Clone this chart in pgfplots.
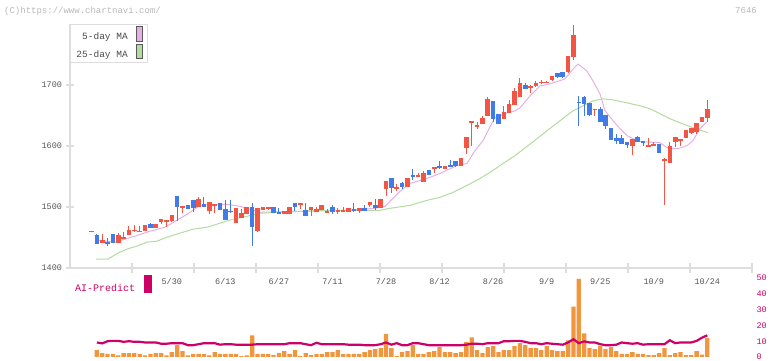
\documentclass[border=0pt]{standalone}
\usepackage{pgfplots}
\pgfplotsset{compat=1.18}
\usepackage{pgfplotstable}
\usepackage{fontspec}
\setmainfont{Liberation Mono}
\definecolor{upred}{HTML}{F25543}
\definecolor{dnblue}{HTML}{407BE8}
\definecolor{mafive}{HTML}{E6B0E6}
\definecolor{matwfive}{HTML}{B2DCA0}
\definecolor{volor}{HTML}{F0963E}
\definecolor{aicol}{HTML}{CC0066}
\definecolor{axgray}{HTML}{DDDDDD}
\definecolor{txgray}{HTML}{555555}

% rising (red) candles: index, open, high, low, close
\pgfplotstableread{
i o h l c
0 1459.5 1460.3 1459.5 1460.3
2 1440.8 1455.4 1440.8 1445.7
5 1440.8 1457.1 1440.8 1453.8
6 1447.3 1458.7 1447.3 1450.5
7 1453.8 1468.5 1453.8 1462.0
8 1461.0 1470.1 1458.7 1462.0
9 1459.5 1468.5 1458.7 1460.3
10 1460.3 1470.1 1460.3 1470.1
12 1465.2 1471.7 1465.2 1471.7
13 1475.0 1479.9 1471.7 1479.9
14 1476.6 1478.3 1466.8 1478.3
15 1476.6 1486.4 1475.0 1486.4
17 1497.8 1501.1 1489.7 1501.1
20 1499.5 1515.8 1499.5 1512.5
22 1492.9 1507.6 1488.0 1507.6
23 1503.5 1504.3 1489.7 1504.3
27 1473.4 1497.8 1473.4 1497.8
28 1481.5 1496.2 1481.5 1489.7
29 1488.0 1499.5 1488.0 1499.5
31 1460.3 1497.8 1458.7 1497.8
32 1494.6 1499.5 1494.6 1499.5
33 1498.7 1499.5 1494.6 1499.5
36 1488.0 1492.9 1488.0 1492.9
37 1488.0 1499.5 1488.0 1499.5
39 1505.2 1506.0 1496.2 1506.0
41 1494.6 1499.5 1484.8 1499.5
42 1491.3 1499.5 1491.3 1496.2
43 1494.6 1502.7 1494.6 1502.7
44 1492.1 1496.2 1491.3 1492.9
46 1491.3 1497.8 1488.0 1494.6
47 1491.3 1499.5 1491.3 1494.6
48 1491.3 1497.8 1491.3 1497.8
50 1492.9 1497.8 1489.7 1497.8
52 1502.7 1507.6 1499.5 1507.6
54 1497.8 1512.5 1497.8 1512.5
55 1528.8 1541.8 1517.4 1541.8
57 1528.8 1537.0 1525.5 1532.1
59 1532.1 1546.7 1532.1 1546.7
61 1550.0 1554.9 1548.4 1551.6
62 1540.2 1558.2 1540.2 1554.9
64 1563.0 1564.7 1554.9 1564.7
66 1563.0 1567.9 1563.0 1567.9
69 1567.9 1581.0 1567.9 1581.0
70 1597.3 1615.2 1587.5 1615.2
71 1638.0 1641.3 1600.5 1641.3
72 1631.5 1639.7 1628.3 1634.8
73 1636.4 1649.5 1636.4 1646.2
74 1649.5 1680.4 1649.5 1677.2
77 1644.6 1665.8 1644.6 1656.0
78 1654.3 1675.5 1654.3 1669.0
79 1667.4 1695.1 1667.4 1690.2
80 1680.4 1711.4 1680.4 1703.3
82 1695.1 1700.0 1686.9 1698.4
83 1698.4 1706.5 1696.7 1703.3
84 1703.3 1708.1 1701.6 1704.9
85 1704.1 1706.5 1704.1 1704.9
86 1708.1 1714.7 1706.5 1714.7
89 1721.2 1747.3 1719.6 1747.3
90 1745.6 1797.8 1740.8 1781.5
94 1660.1 1660.9 1649.5 1660.9
101 1600.5 1612.0 1585.9 1612.0
104 1598.9 1613.6 1598.9 1602.2
105 1600.5 1607.1 1600.5 1603.8
107 1576.1 1581.0 1502.7 1579.3
108 1572.8 1607.1 1572.8 1600.5
109 1607.1 1615.2 1598.9 1615.2
110 1608.7 1612.0 1600.5 1612.0
111 1613.6 1626.6 1613.6 1626.6
112 1621.7 1629.9 1620.1 1629.9
113 1623.4 1638.0 1620.1 1638.0
114 1639.7 1647.8 1639.7 1647.8
115 1646.2 1675.5 1639.7 1660.9
}\upcandles

% falling (blue) candles: index, open, high, low, close
\pgfplotstableread{
i o h l c
1 1453.8 1455.4 1439.1 1439.1
3 1442.4 1448.9 1435.9 1440.8
4 1455.4 1455.4 1440.8 1440.8
11 1471.7 1473.4 1465.2 1465.2
16 1517.4 1517.4 1476.6 1499.5
18 1502.7 1502.7 1496.2 1496.2
19 1510.9 1510.9 1491.3 1497.8
21 1504.3 1515.8 1499.5 1499.5
24 1506.0 1506.0 1494.6 1494.6
25 1496.2 1510.9 1478.3 1478.3
26 1493.5 1510.9 1489.7 1492.9
30 1499.5 1506.0 1435.9 1466.8
34 1499.5 1499.5 1489.7 1489.7
35 1491.3 1497.8 1488.0 1488.0
38 1506.0 1506.0 1492.9 1499.5
40 1494.6 1506.0 1484.8 1484.8
45 1499.5 1502.7 1488.0 1491.3
49 1496.2 1506.0 1491.3 1492.9
51 1497.8 1502.7 1492.9 1492.9
53 1502.7 1512.5 1494.6 1497.8
56 1546.7 1546.7 1522.3 1530.4
58 1538.6 1540.2 1528.8 1532.1
60 1551.6 1563.0 1543.5 1548.4
63 1559.8 1559.8 1551.6 1551.6
65 1567.9 1576.1 1563.0 1564.7
67 1569.6 1577.7 1564.7 1566.3
68 1576.1 1576.1 1566.3 1567.9
75 1673.9 1673.9 1639.7 1644.6
76 1652.7 1652.7 1636.4 1636.4
81 1700.0 1703.3 1693.5 1693.5
87 1719.6 1719.6 1711.4 1713.0
88 1721.2 1721.2 1711.4 1713.0
91 1672.3 1682.1 1633.1 1671.5
92 1680.4 1682.1 1649.5 1669.0
93 1670.6 1670.6 1649.5 1651.1
95 1660.9 1664.1 1639.7 1639.7
96 1651.1 1651.1 1628.3 1633.1
97 1629.9 1629.9 1610.3 1610.3
98 1613.6 1620.1 1603.8 1608.7
99 1613.6 1618.5 1603.8 1603.8
100 1607.1 1607.1 1597.3 1602.2
102 1615.2 1616.8 1607.1 1607.1
103 1608.7 1608.7 1600.5 1605.4
106 1603.8 1603.8 1589.1 1589.1
}\dncandles

% wick centre/half-range and body centre/half-height, from o h l c
\pgfplotstablecreatecol[create col/expr={(\thisrow{h}+\thisrow{l})/2}]{wm}\upcandles
\pgfplotstablecreatecol[create col/expr={(\thisrow{h}-\thisrow{l})/2}]{wh}\upcandles
\pgfplotstablecreatecol[create col/expr={(\thisrow{o}+\thisrow{c})/2}]{bm}\upcandles
\pgfplotstablecreatecol[create col/expr={max(abs(\thisrow{c}-\thisrow{o})/2,0.6)}]{bh}\upcandles
\pgfplotstablecreatecol[create col/expr={(\thisrow{h}+\thisrow{l})/2}]{wm}\dncandles
\pgfplotstablecreatecol[create col/expr={(\thisrow{h}-\thisrow{l})/2}]{wh}\dncandles
\pgfplotstablecreatecol[create col/expr={(\thisrow{o}+\thisrow{c})/2}]{bm}\dncandles
\pgfplotstablecreatecol[create col/expr={max(abs(\thisrow{c}-\thisrow{o})/2,0.6)}]{bh}\dncandles

\pgfplotstableread{
i v
0.97 1445.7
4.39 1442.4
8.12 1452.2
10.92 1460.3
13.73 1466.8
15.97 1478.3
17.83 1488.0
20.26 1502.7
23.06 1504.3
25.30 1504.3
27.73 1501.1
29.60 1496.2
31.46 1491.3
38.93 1492.9
48.27 1494.6
52.94 1497.8
54.81 1501.1
57.61 1525.5
59.48 1538.6
62.65 1546.7
65.08 1554.9
68.25 1567.9
70.12 1571.2
71.62 1592.4
73.11 1608.7
74.42 1631.5
75.35 1646.2
77.22 1652.8
79.09 1657.6
80.02 1662.5
81.89 1682.1
83.75 1698.4
85.62 1701.6
88.42 1709.8
89.92 1726.1
90.85 1734.2
92.53 1722.8
93.65 1706.5
94.96 1685.3
95.89 1657.6
97.39 1641.3
98.69 1628.3
100.00 1616.8
101.12 1612.0
102.43 1607.1
106.16 1605.4
107.47 1597.3
108.59 1595.6
109.52 1595.6
111.20 1600.5
112.32 1608.7
113.63 1628.3
115.12 1641.3
}\mafivetab

\pgfplotstableread{
i v
0.84 1414.7
3.08 1414.7
4.95 1424.5
6.63 1431.0
8.50 1435.9
10.36 1442.4
12.23 1444.0
14.10 1450.5
16.53 1457.1
18.95 1463.6
21.57 1466.8
23.99 1473.4
26.42 1479.9
29.04 1484.8
31.46 1489.7
35.20 1491.3
38.93 1492.9
42.67 1494.6
53.87 1494.6
55.74 1497.8
59.48 1502.7
62.65 1510.9
65.08 1515.8
67.51 1523.9
70.12 1535.3
72.55 1546.7
74.42 1556.5
76.28 1567.9
79.09 1584.2
81.89 1603.0
85.06 1625.0
87.49 1641.3
89.92 1657.6
92.53 1669.0
93.65 1673.9
95.52 1677.2
97.39 1675.5
100.00 1670.6
102.43 1665.8
104.30 1660.9
106.16 1652.7
108.03 1644.6
109.90 1638.0
112.32 1629.9
115.12 1621.7
}\matwfivetab

\pgfplotstableread{
i v a
1 4.4 9.2
2 2.5 8.6
3 1.9 10.0
4 1.9 10.2
5 1.0 10.2
6 2.5 9.6
7 2.5 10.0
8 2.5 9.6
9 1.9 9.6
10 1.0 9.2
11 1.9 9.2
12 2.5 9.2
13 2.5 8.4
14 1.0 8.4
15 3.1 8.75
16 7.5 8.75
17 3.75 8.75
18 1.0 7.5
19 1.9 7.5
20 1.9 8.1
21 1.9 8.75
22 1.0 8.75
23 3.1 8.75
24 1.9 7.8
25 1.9 8.1
26 1.9 8.1
27 1.9 7.8
28 0.6 7.8
29 1.0 7.8
30 13.75 7.8
31 1.9 8.1
32 1.9 8.1
33 1.9 8.1
34 1.25 8.1
35 2.5 8.1
36 3.75 8.1
37 1.9 8.75
38 4.4 8.75
39 0.6 8.75
40 2.5 8.1
41 1.25 7.5
42 1.9 9.0
43 1.9 8.1
44 3.1 8.1
45 3.1 8.1
46 4.4 8.1
47 1.9 8.1
48 1.9 7.8
49 1.9 7.8
50 1.9 7.8
51 3.1 7.5
52 4.4 7.5
53 5.0 7.5
54 5.6 8.1
55 14.4 9.2
56 5.6 7.8
57 0.6 8.75
58 3.1 7.5
59 3.75 7.5
60 7.5 8.75
61 1.9 8.75
62 1.9 8.1
63 3.1 7.5
64 3.75 7.5
65 6.25 7.5
66 3.1 7.5
67 3.1 7.5
68 2.5 7.5
69 3.1 7.5
70 9.4 7.8
71 12.5 8.4
72 4.4 8.4
73 2.5 8.1
74 6.25 8.75
75 6.9 8.75
76 3.1 8.75
77 4.4 10.0
78 4.4 10.0
79 6.9 10.2
80 8.75 10.2
81 7.5 9.6
82 5.6 8.75
83 5.6 8.75
84 4.4 8.1
85 6.9 8.75
86 4.4 8.4
87 3.75 8.1
88 3.75 7.8
89 10.6 9.2
90 31.9 11.25
91 49.4 8.75
92 15.0 9.9
93 5.6 9.2
94 5.0 9.2
95 6.9 8.1
96 5.0 7.5
97 6.25 7.5
98 3.75 7.8
99 1.9 9.2
100 1.9 8.75
101 3.1 8.4
102 1.9 8.75
103 1.9 7.8
104 1.25 8.1
105 1.25 8.1
106 2.5 8.1
107 5.6 8.1
108 1.25 10.6
109 2.5 8.75
110 3.1 9.2
111 1.25 9.2
112 1.25 9.2
113 3.75 10.2
114 1.5 12.2
115 11.9 13.75
}\voltab

\begin{document}
\begin{tikzpicture}
\path[use as bounding box] (0,0) rectangle (772bp,361bp);
\node[anchor=west, inner sep=0pt, text=black!28, font=\fontsize{9bp}{10bp}\selectfont] at (4bp,350bp) {(C)https://www.chartnavi.com/};
\node[anchor=east, inner sep=0pt, text=black!28, font=\fontsize{9bp}{10bp}\selectfont] at (757bp,350bp) {7646};

\begin{axis}[
  at={(70bp,93bp)}, anchor=south west,
  width=682bp, height=244.1bp, scale only axis,
  xmin=-4.015, xmax=123.343, ymin=1400, ymax=1800,
  clip=false,
  axis x line*=bottom, axis y line*=left,
  axis line style={axgray, line width=1.2bp, -},
  xtick={7.563,19.141,30.719,42.297,53.875,65.453,77.031,88.609,100.187,111.765,123.343},
  xticklabels={},
  ytick={1400,1500,1600,1700},
  tick style={axgray, line width=1.2bp},
  major tick length=9bp, tick align=center,
  /pgf/number format/assume math mode=true,
  /pgf/number format/1000 sep={},
  yticklabel style={font=\fontsize{8.5bp}{10bp}\selectfont, text=txgray},
  extra x ticks={15,25,35,45,55,65,75,85,95,105,115},
  extra x tick labels={5/30,6/13,6/27,7/11,7/28,8/12,8/26,9/9,9/25,10/9,10/24},
  extra x tick style={major tick length=0pt, tick style={draw=none},
     xticklabel style={yshift=-7bp, font=\fontsize{8.5bp}{10bp}\selectfont, text=txgray}},
  legend plot pos=right,
  legend cell align=right,
  legend style={at={(0,1)}, anchor=north west, draw=axgray, line width=1bp, fill=white,
     font=\fontsize{9.5bp}{11bp}\selectfont, text=black!70,
     inner xsep=4bp, inner ysep=2bp, row sep=1bp},
]
\addplot[mafive, line width=1bp, mark=none,
  legend image code/.code={\path (0bp,0bp); \draw[fill=mafive, draw=black!65, line width=0.8bp] (6bp,-4.5bp) rectangle (12.5bp,10bp);}]
  table[x=i, y=v] {\mafivetab};
\addlegendentry{5-day MA}
\addplot[matwfive, line width=1bp, mark=none,
  legend image code/.code={\path (0bp,0bp); \draw[fill=matwfive, draw=black!65, line width=0.8bp] (6bp,-4.5bp) rectangle (12.5bp,10bp);}]
  table[x=i, y=v] {\matwfivetab};
\addlegendentry{25-day MA}

% wicks
\addplot[draw=none, mark=none, forget plot,
  error bars/.cd, y dir=both, y explicit, error mark=none,
  error bar style={draw=upred, line width=1bp, solid}]
  table[x=i, y=wm, y error=wh] {\upcandles};
\addplot[draw=none, mark=none, forget plot,
  error bars/.cd, y dir=both, y explicit, error mark=none,
  error bar style={draw=dnblue, line width=1bp, solid}]
  table[x=i, y=wm, y error=wh] {\dncandles};
% bodies
\addplot[draw=none, mark=none, forget plot,
  error bars/.cd, y dir=both, y explicit, error mark=none,
  error bar style={draw=upred, line width=4.6bp, solid}]
  table[x=i, y=bm, y error=bh] {\upcandles};
\addplot[draw=none, mark=none, forget plot,
  error bars/.cd, y dir=both, y explicit, error mark=none,
  error bar style={draw=dnblue, line width=4.6bp, solid}]
  table[x=i, y=bm, y error=bh] {\dncandles};
\end{axis}

\begin{axis}[
  at={(70bp,4bp)}, anchor=south west,
  width=682bp, height=79bp, scale only axis,
  xmin=-4.015, xmax=123.343, ymin=0, ymax=50,
  hide x axis,
  axis y line*=right, y axis line style={draw=none},
  ytick={0,10,20,30,40,50},
  major tick length=0pt,
  /pgf/number format/assume math mode=true,
  yticklabel style={font=\fontsize{8.5bp}{10bp}\selectfont, text=aicol, xshift=1bp},
  legend plot pos=right,
  legend style={at={(0,1.04)}, anchor=north west, draw=none, fill=none,
     font=\fontsize{10bp}{11bp}\selectfont, text=aicol, inner xsep=3bp, inner ysep=0bp},
]
\addplot[ybar, bar width=4.3bp, bar shift=0pt, fill=volor, draw=none, forget plot]
  table[x=i, y=v] {\voltab};
\addplot[aicol, line width=2.2bp, mark=none,
  legend image code/.code={\path (0bp,0bp); \fill[aicol] (7bp,-4bp) rectangle (13bp,12bp);}]
  table[x=i, y=a] {\voltab};
\addlegendentry{AI-Predict}
\end{axis}
\end{tikzpicture}
\end{document}
